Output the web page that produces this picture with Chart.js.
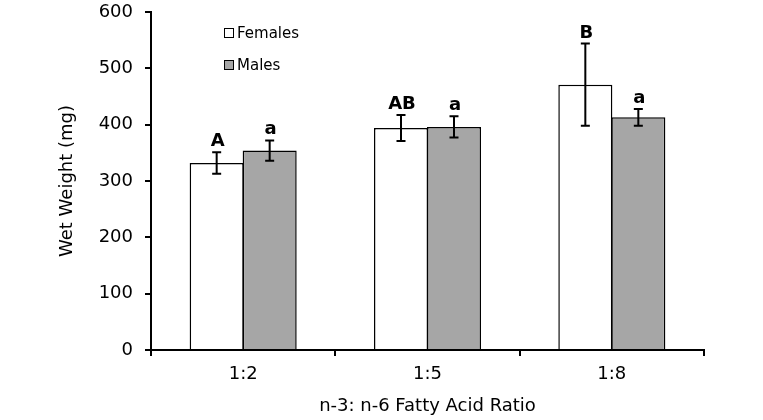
<!DOCTYPE html>
<html>
<head>
<meta charset="utf-8">
<script src="https://cdn.jsdelivr.net/npm/chart.js@4"></script>
<style>
  body { margin: 0; background: #fff; }
  #wrap { position: relative; width: 763px; height: 420px; }
  .leg { position: absolute; left: 224px; font: 15px "DejaVu Sans", Verdana, sans-serif; color: #000; line-height: 18px; white-space: nowrap; }
  .leg span.box { display: inline-block; width: 8px; height: 8px; border: 1.5px solid #000; margin-right: 3px; vertical-align: 0px; }
</style>
</head>
<body>
<div id="wrap">
  <canvas id="myChart" width="763" height="420"></canvas>
  <div class="leg" style="top:24px"><span class="box" style="background:#fff"></span>Females</div>
  <div class="leg" style="top:56px"><span class="box" style="background:#a6a6a6"></span>Males</div>
</div>
<script>
var categories = ['1:2', '1:5', '1:8'];
var females = [332, 394, 471];
var males = [354, 396, 413];
var femaleErr = [19, 23, 73];
var maleErr = [18, 19, 15];
var femaleLetters = ['A', 'AB', 'B'];
var maleLetters = ['a', 'a', 'a'];

var fontFamily = '"DejaVu Sans", Verdana, sans-serif';

// error bars + significance letters
var errorBars = {
    id: 'errorBars',
    afterDatasetsDraw: function(chart) {
        var ctx = chart.ctx;
        var yScale = chart.scales.y;
        var errs = [femaleErr, maleErr];
        var letters = [femaleLetters, maleLetters];
        ctx.save();
        ctx.strokeStyle = '#000';
        ctx.lineWidth = 2;
        ctx.fillStyle = '#000';
        ctx.font = 'bold 18px ' + fontFamily;
        ctx.textAlign = 'center';
        ctx.textBaseline = 'alphabetic';
        chart.data.datasets.forEach(function(ds, di) {
            var meta = chart.getDatasetMeta(di);
            meta.data.forEach(function(bar, i) {
                var v = ds.data[i];
                var yTop = yScale.getPixelForValue(v + errs[di][i]);
                var yBot = yScale.getPixelForValue(v - errs[di][i]);
                var x = bar.x;
                ctx.beginPath();
                ctx.moveTo(x, yTop); ctx.lineTo(x, yBot);
                ctx.moveTo(x - 4.5, yTop); ctx.lineTo(x + 4.5, yTop);
                ctx.moveTo(x - 4.5, yBot); ctx.lineTo(x + 4.5, yBot);
                ctx.stroke();
                ctx.fillText(letters[di][i], x + 1, yTop - 6);
            });
        });
        ctx.restore();
    }
};

var chartdata = {
    labels: categories,
    datasets: [
        {
            label: 'Females',
            data: females,
            backgroundColor: '#ffffff',
            borderColor: '#000000',
            borderWidth: 1.5,
            borderSkipped: 'start'
        },
        {
            label: 'Males',
            data: males,
            backgroundColor: '#a6a6a6',
            borderColor: '#000000',
            borderWidth: 1.5,
            borderSkipped: 'start'
        }
    ]
};

var barGraph = new Chart('myChart', {
    type: 'bar',
    data: chartdata,
    plugins: [errorBars],
    options: {
        responsive: false,
        animation: false,
        layout: { padding: { left: 57, right: 59, top: 12, bottom: 0 } },
        datasets: { bar: { categoryPercentage: 0.575, barPercentage: 1.02 } },
        plugins: {
            legend: { display: false },
            tooltip: { enabled: false }
        },
        scales: {
            x: {
                grid: { offset: true, drawOnChartArea: false, drawTicks: true, tickLength: 6, color: '#000', lineWidth: 2 },
                border: { color: '#000', width: 2 },
                ticks: { color: '#000', padding: 8, font: { family: fontFamily, size: 18 } },
                title: {
                    display: true,
                    text: 'n-3: n-6 Fatty Acid Ratio',
                    color: '#000',
                    padding: { top: 0, bottom: 3 },
                    font: { family: fontFamily, size: 18 }
                },
                afterFit: function(scale) { scale.height = 70; }
            },
            y: {
                min: 0,
                max: 600,
                grid: { drawOnChartArea: false, drawTicks: true, tickLength: 6, color: '#000', lineWidth: 2 },
                border: { color: '#000', width: 2 },
                ticks: { stepSize: 100, color: '#000', padding: 12, font: { family: fontFamily, size: 18 } },
                title: {
                    display: true,
                    text: 'Wet Weight (mg)',
                    color: '#000',
                    padding: { top: 0, bottom: 0 },
                    font: { family: fontFamily, size: 18 }
                },
                afterFit: function(scale) {
                    scale.width = 94;
                    scale.paddingTop = 0;
                    scale.paddingBottom = 0;
                }
            }
        }
    }
});
</script>
</body>
</html>
